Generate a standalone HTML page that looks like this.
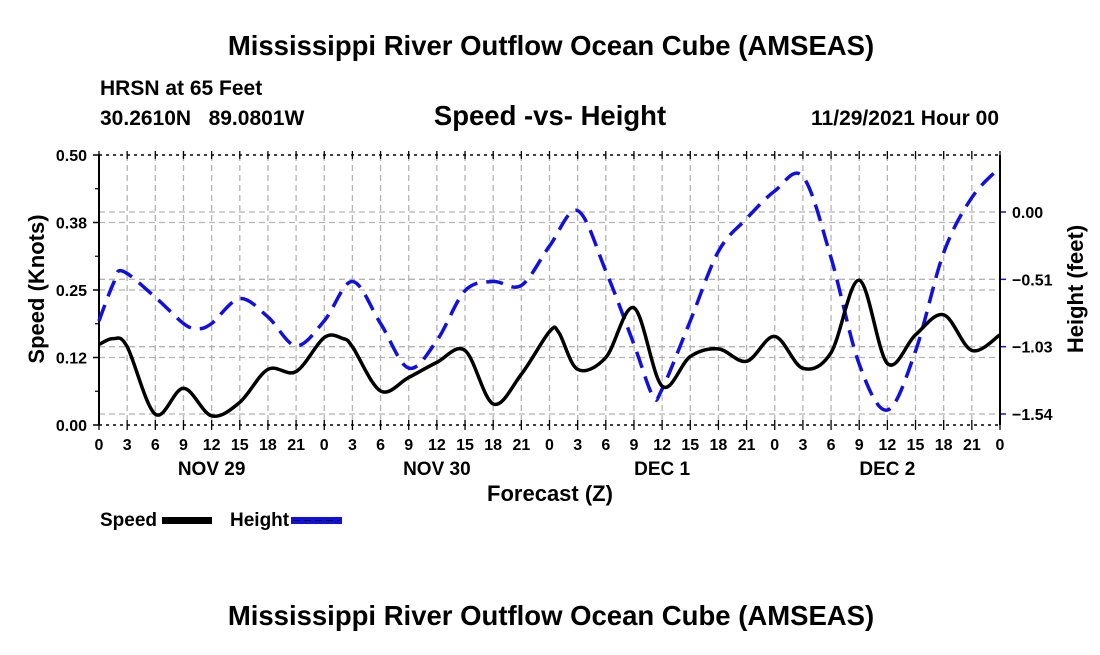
<!DOCTYPE html>
<html><head><meta charset="utf-8"><style>
body{margin:0;background:#fff;width:1100px;height:650px;overflow:hidden;font-family:"Liberation Sans",Arial,sans-serif}
svg text{font-family:"Liberation Sans",Arial,sans-serif;font-weight:bold}
</style></head><body>
<svg id="chart" width="1100" height="650" viewBox="0 0 1100 650" xmlns="http://www.w3.org/2000/svg">
<text x="551" y="55" font-size="27.5" text-anchor="middle">Mississippi River Outflow Ocean Cube (AMSEAS)</text>
<text x="100" y="95" font-size="21">HRSN at 65 Feet</text>
<text x="100" y="125" font-size="21">30.2610N&#160;&#160;&#160;89.0801W</text>
<text x="550" y="125" font-size="27.5" text-anchor="middle">Speed -vs- Height</text>
<text x="999" y="125" font-size="21" text-anchor="end">11/29/2021 Hour 00</text>
<g id="grid"></g>
<g id="axes"></g>
<g id="series"></g>
<text transform="translate(44,289) rotate(-90)" font-size="22" text-anchor="middle">Speed (Knots)</text>
<text transform="translate(1083,289) rotate(-90)" font-size="22" text-anchor="middle">Height (feet)</text>
<text x="550" y="501" font-size="22" text-anchor="middle">Forecast (Z)</text>
<g>
<g><text x="100" y="526" font-size="19">Speed</text><rect x="162" y="517" width="50" height="7" fill="#000"/></g>
<g><text x="230" y="526" font-size="19">Height</text><rect x="291" y="517" width="51" height="7" fill="#1010e0"/><line x1="293" y1="520.5" x2="340" y2="520.5" stroke="#000" stroke-width="1" stroke-dasharray="7,4"/></g>
</g>
<text x="551" y="625" font-size="27.5" text-anchor="middle">Mississippi River Outflow Ocean Cube (AMSEAS)</text>
</svg>
<script>
const speedHours=[0,1.5,3,6,9,12,15,18,21,24,26,27,30,33,36,39,42,45,48,49,51,54,57,60,63,66,69,72,75,78,81,84,87,90,93,96];
const speedValues=[0.149,0.160,0.145,0.020,0.068,0.017,0.042,0.103,0.099,0.162,0.160,0.145,0.063,0.088,0.116,0.138,0.039,0.094,0.173,0.171,0.103,0.125,0.217,0.072,0.127,0.141,0.118,0.164,0.105,0.134,0.268,0.114,0.167,0.204,0.138,0.167];
const heightHours=[0,1.5,2.5,6,9,10.5,12,15,18,21,24,27,30,33,36,39,42,45,48,51,54,57,59,60,63,66,69,72,75,78,81,84,87,90,93,96];
const heightValues=[-0.83,-0.55,-0.45,-0.65,-0.85,-0.89,-0.85,-0.66,-0.80,-1.02,-0.83,-0.53,-0.85,-1.19,-0.98,-0.60,-0.53,-0.56,-0.26,0.01,-0.45,-1.01,-1.40,-1.35,-0.83,-0.30,-0.05,0.16,0.27,-0.35,-1.16,-1.51,-1.06,-0.31,0.11,0.34];
const leftTicks=[0,0.125,0.25,0.375,0.5];
const leftTickLabels=["0.00","0.12","0.25","0.38","0.50"];
const rightTicks=[0,-0.5133,-1.0267,-1.54];
const rightTickLabels=["0.00","\u22120.51","\u22121.03","\u22121.54"];
const dayLabels=["NOV 29","NOV 30","DEC 1","DEC 2"];

const L=99,R=1000,T=155,B=425;
const NS="http://www.w3.org/2000/svg";
const xS=h=>L+h*(R-L)/96;
const yL=v=>B-v*(B-T)/0.5;
const yR=v=>212-v*(414-212)/1.54;
function mk(tag,attrs,parent){const e=document.createElementNS(NS,tag);for(const k in attrs)e.setAttribute(k,attrs[k]);parent.appendChild(e);return e;}
const grid=document.getElementById('grid'),axes=document.getElementById('axes'),series=document.getElementById('series');
for(let h=3;h<96;h+=3){const g=mk('line',{x1:xS(h),x2:xS(h),y1:T,y2:B,stroke:'#b4b4b4','stroke-width':1.3,'stroke-dasharray':'6,4'},grid);

}
leftTicks.forEach((v,i)=>{const y=yL(v);
if(v>0&&v<0.5){const g=mk('line',{x1:L,x2:R,y1:y,y2:y,stroke:'#b4b4b4','stroke-width':1.3,'stroke-dasharray':'6,4'},grid);

}
mk('line',{x1:L-6,x2:L,y1:y,y2:y,stroke:'#000','stroke-width':1.5},axes);
const t=mk('text',{x:L-12,y:y+6,'font-size':16,'text-anchor':'end'},axes);t.textContent=leftTickLabels[i];

});
for(let v=0.0625;v<0.5;v+=0.125){mk('line',{x1:L-4,x2:L,y1:yL(v),y2:yL(v),stroke:'#000','stroke-width':1.2},axes);}
rightTicks.forEach((v,i)=>{const y=yR(v);
const g=mk('line',{x1:L,x2:R,y1:y,y2:y,stroke:'#b4b4b4','stroke-width':1.3,'stroke-dasharray':'6,4'},grid);


mk('line',{x1:R,x2:R+6,y1:y,y2:y,stroke:'#1010e0','stroke-width':1.5},axes);
const t=mk('text',{x:R+12,y:y+6,'font-size':16},axes);t.textContent=rightTickLabels[i];

});
mk('line',{x1:L,x2:R,y1:T,y2:T,stroke:'#000','stroke-width':1.5,'stroke-dasharray':'3,4'},axes);
mk('line',{x1:L,x2:R,y1:B,y2:B,stroke:'#000','stroke-width':1.5,'stroke-dasharray':'3,4'},axes);
mk('line',{x1:L,x2:L,y1:T,y2:B,stroke:'#000','stroke-width':2},axes);
mk('line',{x1:R,x2:R,y1:T,y2:B,stroke:'#000','stroke-width':2},axes);
for(let h=0;h<=96;h+=3){const x=xS(h);
mk('line',{x1:x,x2:x,y1:B-5,y2:B+5,stroke:'#000','stroke-width':1.3},axes);
mk('line',{x1:x,x2:x,y1:T-4,y2:T+4,stroke:'#000','stroke-width':1.3},axes);
const t=mk('text',{x:x,y:450,'font-size':16,'text-anchor':'middle'},axes);t.textContent=String(h%24);

}
dayLabels.forEach((d,i)=>{const t=mk('text',{x:xS(12+24*i),y:475,'font-size':19,'text-anchor':'middle'},axes);t.textContent=d;

});
function path(xs,ys){const p=xs.map((x,i)=>[x,ys[i]]);let d='M'+p[0][0]+','+p[0][1];
for(let i=0;i<p.length-1;i++){const p0=p[Math.max(0,i-1)],p1=p[i],p2=p[i+1],p3=p[Math.min(p.length-1,i+2)];
const c1x=p1[0]+(p2[0]-p0[0])/6,c1y=p1[1]+(p2[1]-p0[1])/6,c2x=p2[0]-(p3[0]-p1[0])/6,c2y=p2[1]-(p3[1]-p1[1])/6;
d+=` C${c1x},${c1y} ${c2x},${c2y} ${p2[0]},${p2[1]}`;}return d;}
const hp=mk('path',{d:path(heightHours.map(xS),heightValues.map(yR)),fill:'none',stroke:'#1010e0','stroke-width':3.5,'stroke-dasharray':'17,9'},series);


const sp=mk('path',{d:path(speedHours.map(xS),speedValues.map(yL)),fill:'none',stroke:'#000','stroke-width':3.5},series);


</script>
</body></html>
